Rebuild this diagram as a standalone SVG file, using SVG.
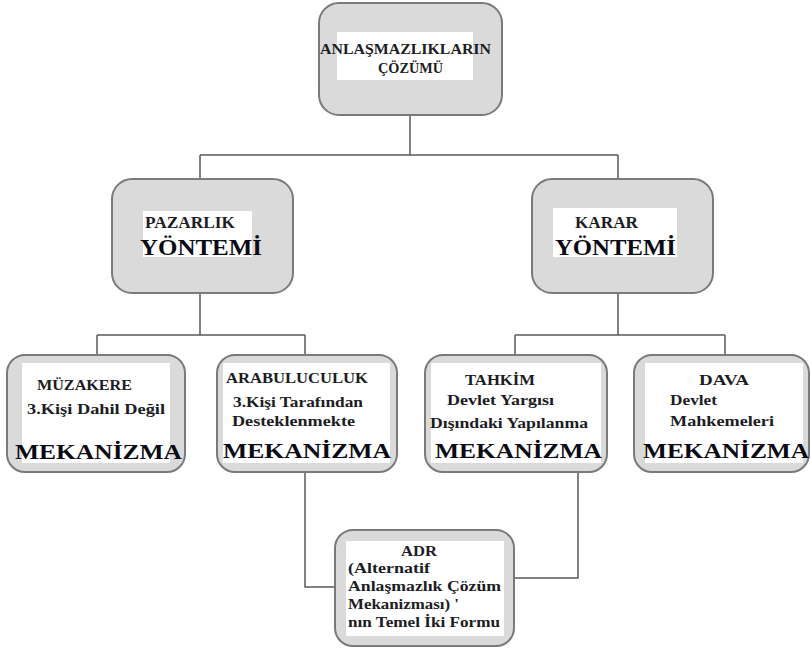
<svg xmlns="http://www.w3.org/2000/svg" width="811" height="648" viewBox="0 0 811 648">
<style>
.box{fill:#dadada;stroke:#7a7a7a;stroke-width:2}
.in{fill:#ffffff}
.t{font-weight:bold;fill:#1c1c24}
.big{fill:#0a0a14}
.c{fill:none;stroke:#5a5a5a;stroke-width:1.5}
</style>
<rect width="811" height="648" fill="#ffffff"/>
<g id="connectors">
<path class="c" d="M410,115 V155 M200,155 H618 M200,155 V179 M618,155 V179"/>
<path class="c" d="M200,293 V335 M97,335 H305 M97,335 V355 M305,335 V355"/>
<path class="c" d="M618,293 V335 M515,335 H725 M515,335 V355 M725,335 V355"/>
<path class="c" d="M305,472 V587 H335"/>
<path class="c" d="M578,472 V578 H514"/>
</g>
<g font-family="Liberation Serif, Times New Roman, Times, Noto Serif, DejaVu Serif, FreeSerif, serif">
<g id="root">
<rect class="box" x="319" y="3" width="183" height="112" rx="20"/>
<rect class="in" x="337" y="32" width="136" height="48"/>
<text class="t" x="320" y="54" font-size="15" textLength="171" lengthAdjust="spacingAndGlyphs">ANLAŞMAZLIKLARIN</text>
<text class="t" x="378" y="73" font-size="15" textLength="65" lengthAdjust="spacingAndGlyphs">ÇÖZÜMÜ</text>
</g>
<g id="pazarlik">
<rect class="box" x="112" y="179" width="181" height="114" rx="20"/>
<rect class="in" x="143" y="211" width="109" height="46"/>
<text class="t" x="145" y="228" font-size="17" textLength="90" lengthAdjust="spacingAndGlyphs">PAZARLIK</text>
<text class="t big" x="140" y="255" font-size="24" textLength="122" lengthAdjust="spacingAndGlyphs">YÖNTEMİ</text>
</g>
<g id="karar">
<rect class="box" x="532" y="179" width="181" height="114" rx="20"/>
<rect class="in" x="553" y="208" width="124" height="49"/>
<text class="t" x="575" y="228" font-size="17" textLength="63" lengthAdjust="spacingAndGlyphs">KARAR</text>
<text class="t big" x="555" y="255" font-size="24" textLength="121" lengthAdjust="spacingAndGlyphs">YÖNTEMİ</text>
</g>
<g id="muzakere">
<rect class="box" x="7" y="355" width="178" height="117" rx="18"/>
<rect class="in" x="22" y="363" width="148" height="100"/>
<text class="t" x="37" y="390" font-size="15" textLength="95" lengthAdjust="spacingAndGlyphs">MÜZAKERE</text>
<text class="t" x="27" y="414" font-size="15" textLength="138" lengthAdjust="spacingAndGlyphs">3.Kişi Dahil Değil</text>
<text class="t big" x="15" y="459" font-size="22" textLength="167" lengthAdjust="spacingAndGlyphs">MEKANİZMA</text>
</g>
<g id="arabuluculuk">
<rect class="box" x="217" y="355" width="180" height="117" rx="18"/>
<rect class="in" x="223" y="363" width="167" height="100"/>
<text class="t" x="226" y="383" font-size="15" textLength="142" lengthAdjust="spacingAndGlyphs">ARABULUCULUK</text>
<text class="t" x="233" y="407" font-size="15" textLength="130" lengthAdjust="spacingAndGlyphs">3.Kişi Tarafından</text>
<text class="t" x="232" y="426" font-size="15" textLength="123" lengthAdjust="spacingAndGlyphs">Desteklenmekte</text>
<text class="t big" x="223" y="458" font-size="22" textLength="168" lengthAdjust="spacingAndGlyphs">MEKANİZMA</text>
</g>
<g id="tahkim">
<rect class="box" x="425" y="355" width="182" height="117" rx="18"/>
<rect class="in" x="431" y="363" width="170" height="100"/>
<text class="t" x="465" y="385" font-size="15" textLength="70" lengthAdjust="spacingAndGlyphs">TAHKİM</text>
<text class="t" x="447" y="405" font-size="15" textLength="107" lengthAdjust="spacingAndGlyphs">Devlet Yargısı</text>
<text class="t" x="430" y="428" font-size="15" textLength="158" lengthAdjust="spacingAndGlyphs">Dışındaki Yapılanma</text>
<text class="t big" x="435" y="458" font-size="22" textLength="167" lengthAdjust="spacingAndGlyphs">MEKANİZMA</text>
</g>
<g id="dava">
<rect class="box" x="634" y="355" width="175" height="117" rx="18"/>
<rect class="in" x="645" y="363" width="158" height="100"/>
<text class="t" x="699" y="385" font-size="15" textLength="50" lengthAdjust="spacingAndGlyphs">DAVA</text>
<text class="t" x="670" y="405" font-size="15" textLength="47" lengthAdjust="spacingAndGlyphs">Devlet</text>
<text class="t" x="670" y="426" font-size="15" textLength="104" lengthAdjust="spacingAndGlyphs">Mahkemeleri</text>
<text class="t big" x="643" y="458" font-size="22" textLength="166" lengthAdjust="spacingAndGlyphs">MEKANİZMA</text>
</g>
<g id="adr">
<rect class="box" x="335" y="530" width="179" height="116" rx="18"/>
<rect class="in" x="346" y="541" width="158" height="95"/>
<text class="t" x="401" y="556" font-size="15" textLength="36" lengthAdjust="spacingAndGlyphs">ADR</text>
<text class="t" x="348" y="573" font-size="14" textLength="82" lengthAdjust="spacingAndGlyphs">(Alternatif</text>
<text class="t" x="348" y="591" font-size="14" textLength="153" lengthAdjust="spacingAndGlyphs">Anlaşmazlık Çözüm</text>
<text class="t" x="348" y="609" font-size="14" textLength="111" lengthAdjust="spacingAndGlyphs">Mekanizması) '</text>
<text class="t" x="348" y="627" font-size="14" textLength="152" lengthAdjust="spacingAndGlyphs">nın Temel İki Formu</text>
</g>
</g>
</svg>
